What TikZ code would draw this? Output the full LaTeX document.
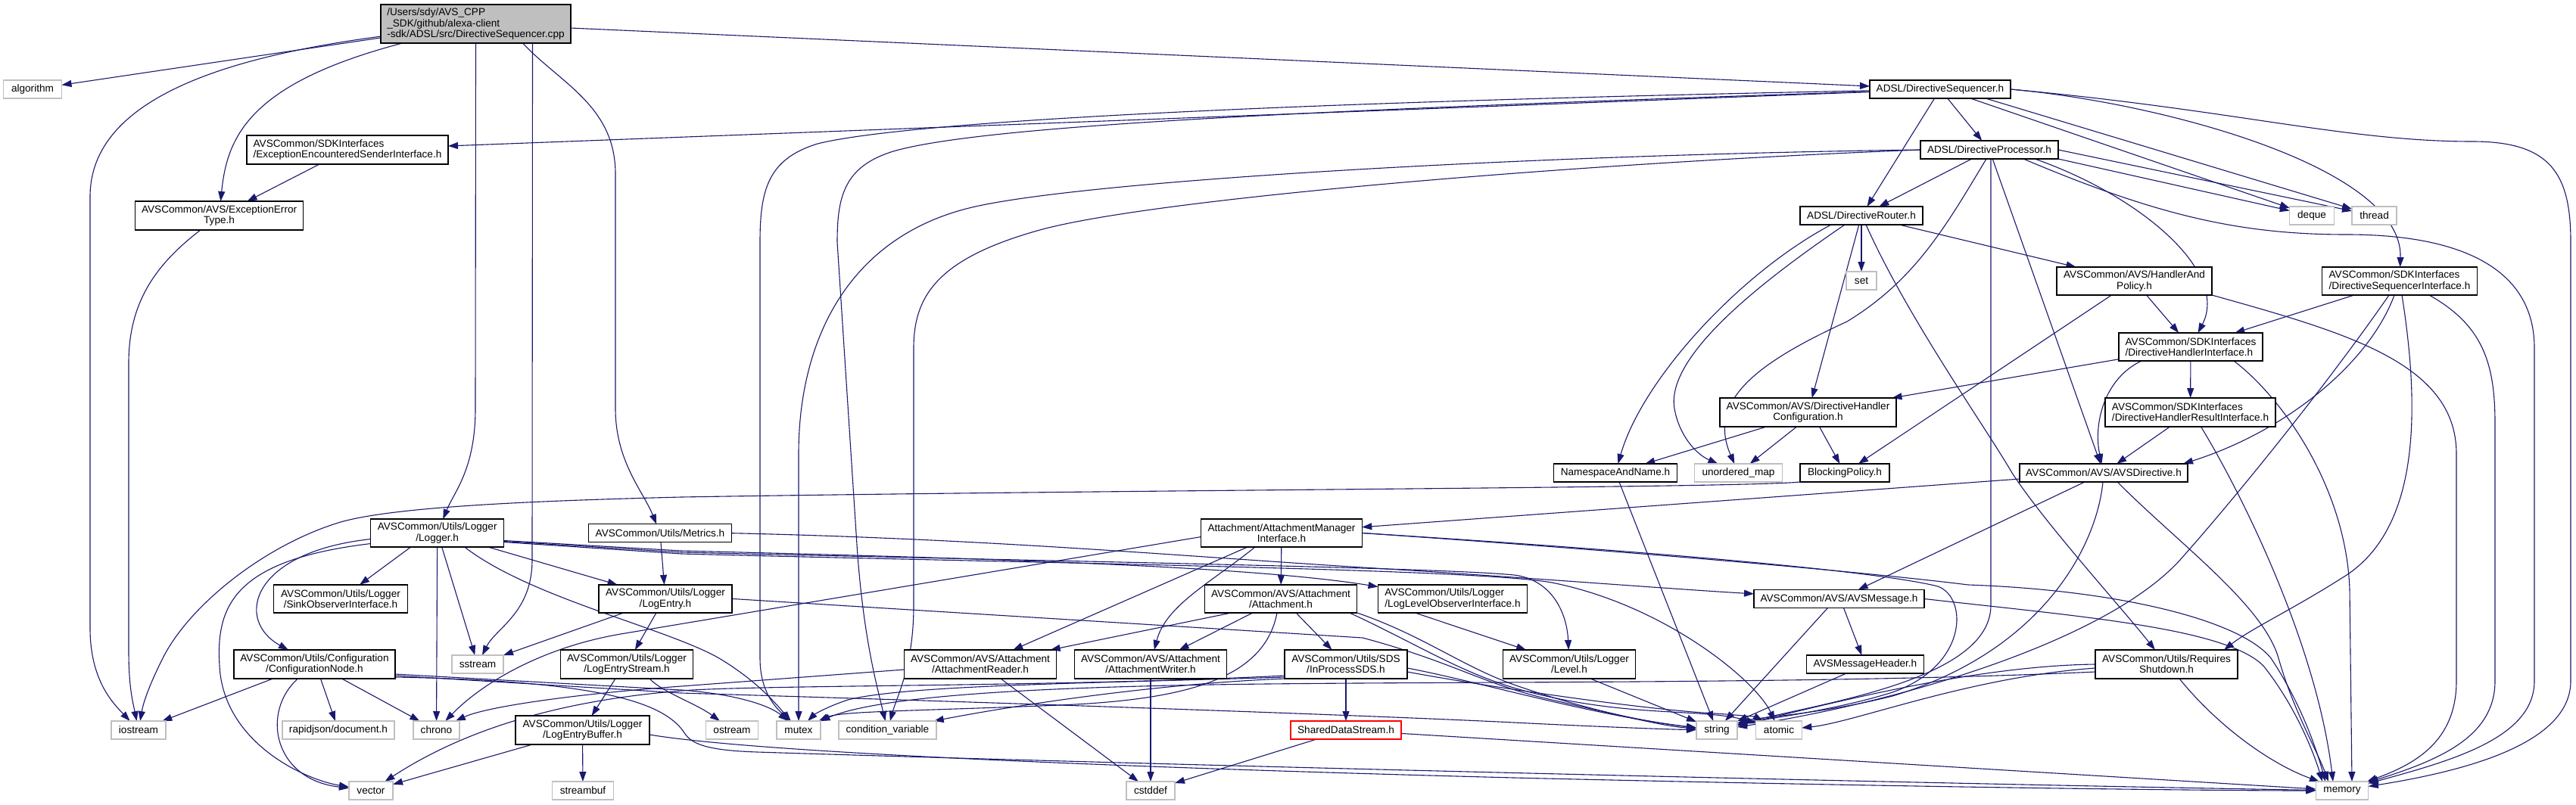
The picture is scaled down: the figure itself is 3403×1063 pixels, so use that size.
\documentclass[tikz,border=0pt]{standalone}
\usepackage{fontspec}
\setmainfont{Liberation Sans}
\usetikzlibrary{arrows.meta}
\definecolor{edgeblue}{HTML}{191970}
\definecolor{greyb}{HTML}{BFBFBF}
\pgfdeclarelayer{bgfill}
\pgfdeclarelayer{edges}
\pgfsetlayers{bgfill,edges,main}
\newcommand\mknode[6]{\node[#1, minimum width=#4pt, minimum height=#5pt] (#2) at (#3) {#6};}
\begin{document}
\begin{tikzpicture}[x=1pt,y=-1pt,
  every node/.style={font=\fontsize{13.6}{14.2}\selectfont, inner sep=0pt, outer sep=0pt},
  box/.style={draw=black, line width=1.3pt, fill=white},
  sys/.style={draw=greyb, line width=1.3pt, fill=white},
  trunc/.style={draw=red, line width=1.3pt, fill=white},
  edg/.style={draw=edgeblue, line width=1.1pt, -{Triangle[length=13pt,width=9pt]}},
]
\useasboundingbox (0,0) rectangle (3403,1063);
\begin{pgfonlayer}{bgfill}
\fill[white] (0,0) rectangle (3403,1063);
\end{pgfonlayer}

% ---------- nodes ----------
\mknode{box,fill=greyb,align=left}{main}{628.5,31.5}{251}{51}{/Users/sdy/AVS\_CPP\\\_SDK/github/alexa-client\\-sdk/ADSL/src/DirectiveSequencer.cpp}
\mknode{sys}{algo}{43,118}{77}{24}{algorithm}
\mknode{box,align=left}{EESI}{459,198}{266}{38}{AVSCommon/SDKInterfaces\\/ExceptionEncounteredSenderInterface.h}
\mknode{box,align=center}{EET}{289.6,285}{222}{38}{AVSCommon/AVS/ExceptionError\\Type.h}
\mknode{box}{DS}{2563,118}{186}{24}{ADSL/DirectiveSequencer.h}
\mknode{box}{DP}{2628,198}{182}{24}{ADSL/DirectiveProcessor.h}
\mknode{box}{DR}{2459,285}{162}{24}{ADSL/DirectiveRouter.h}
\mknode{sys}{set}{2459,371}{40}{24}{set}
\mknode{sys}{deque}{3054,285}{58.5}{24}{deque}
\mknode{sys}{thread}{3136.5,285}{59}{24}{thread}
\mknode{box,align=center}{HAP}{2819.5,371.5}{205}{37}{AVSCommon/AVS/HandlerAnd\\Policy.h}
\mknode{box,align=left}{DSI}{3170,371.5}{204.5}{37}{AVSCommon/SDKInterfaces\\/DirectiveSequencerInterface.h}
\mknode{box,align=left}{DHI}{2894,458.5}{190}{37}{AVSCommon/SDKInterfaces\\/DirectiveHandlerInterface.h}
\mknode{box,align=left}{DHRI}{2893.5,545}{225}{38}{AVSCommon/SDKInterfaces\\/DirectiveHandlerResultInterface.h}
\mknode{box}{AVSD}{2779,625}{222}{24}{AVSCommon/AVS/AVSDirective.h}
\mknode{box,align=center}{DHC}{2388.5,545}{233}{38}{AVSCommon/AVS/DirectiveHandler\\Configuration.h}
\mknode{box}{NAN}{2134,625}{163}{24}{NamespaceAndName.h}
\mknode{sys}{umap}{2296.5,625}{116}{24}{unordered\_map}
\mknode{box}{BP}{2437,625}{118}{24}{BlockingPolicy.h}
\mknode{box,align=center}{Logger}{577.7,704.5}{176}{37}{AVSCommon/Utils/Logger\\/Logger.h}
\mknode{box}{Metrics}{872,704.7}{189}{24}{AVSCommon/Utils/Metrics.h}
\mknode{box,align=center}{AMI}{1693,704.5}{212.5}{37}{Attachment/AttachmentManager\\Interface.h}
\mknode{box,align=center}{SOI}{450,791.4}{176.4}{37}{AVSCommon/Utils/Logger\\/SinkObserverInterface.h}
\mknode{box,align=center}{CN}{415.5,878}{213}{38}{AVSCommon/Utils/Configuration\\/ConfigurationNode.h}
\mknode{sys}{sstream}{631,878}{68}{24}{sstream}
\mknode{box,align=center}{LogEntry}{879,791.4}{176}{37}{AVSCommon/Utils/Logger\\/LogEntry.h}
\mknode{box,align=center}{LES}{828,878}{175.5}{38}{AVSCommon/Utils/Logger\\/LogEntryStream.h}
\mknode{sys}{iostream}{183,965}{72}{24}{iostream}
\mknode{sys}{rapidjson}{447,965}{148}{24}{rapidjson/document.h}
\mknode{sys}{chrono}{576.5,965}{61}{24}{chrono}
\mknode{box,align=center}{LEB}{769.5,965}{177}{38}{AVSCommon/Utils/Logger\\/LogEntryBuffer.h}
\mknode{sys}{vector}{490,1045}{58}{24}{vector}
\mknode{sys}{streambuf}{770,1045}{80.5}{24}{streambuf}
\mknode{box,align=center}{Attachment}{1692,791.4}{201}{37}{AVSCommon/AVS/Attachment\\/Attachment.h}
\mknode{box,align=center}{AR}{1295,878}{200.5}{38}{AVSCommon/AVS/Attachment\\/AttachmentReader.h}
\mknode{box,align=center}{AW}{1520,878}{201.5}{38}{AVSCommon/AVS/Attachment\\/AttachmentWriter.h}
\mknode{box,align=center}{IPSDS}{1778,878}{162}{38}{AVSCommon/Utils/SDS\\/InProcessSDS.h}
\mknode{sys}{ostream}{967,965}{69}{24}{ostream}
\mknode{sys}{mutex}{1055,965}{58}{24}{mutex}
\mknode{sys}{condvar}{1172.5,965}{129}{24}{condition\_variable}
\mknode{trunc}{SDS}{1778,965}{146}{24}{SharedDataStream.h}
\mknode{sys}{cstddef}{1520,1045}{64}{24}{cstddef}
\mknode{box,align=left}{LLOI}{1919,791.4}{197}{37}{AVSCommon/Utils/Logger\\/LogLevelObserverInterface.h}
\mknode{box,align=center}{Level}{2073,878}{175.5}{38}{AVSCommon/Utils/Logger\\/Level.h}
\mknode{box}{AVSM}{2429.5,791.5}{225}{24}{AVSCommon/AVS/AVSMessage.h}
\mknode{box}{AVSMH}{2464,878}{155}{24}{AVSMessageHeader.h}
\mknode{sys}{string}{2268,965}{54}{24}{string}
\mknode{sys}{atomic}{2350,965}{60.5}{24}{atomic}
\mknode{box,align=center}{RS}{2862,878}{188}{38}{AVSCommon/Utils/Requires\\Shutdown.h}
\mknode{sys}{memory}{3094,1045}{69.5}{24}{memory}

% ---------- edges ----------
\begin{pgfonlayer}{edges}
% main
\draw[edg] (main) -- (algo);
\draw[edg] (main) .. controls (300,75) and (119,130) .. (119,260) -- (119,830) .. controls (119,900) and (150,930) .. (iostream);
\draw[edg] (main) .. controls (330,110) and (300,180) .. (EET);
\draw[edg] (main.south) -- (628,540) .. controls (628,620) and (600,650) .. (Logger);
\draw[edg] ([xshift=75pt]main.south) -- (703,740) .. controls (703,810) and (655,830) .. (sstream);
\draw[edg] ([xshift=62pt]main.south) .. controls (740,110) and (813,140) .. (813,230) -- (813,540) .. controls (813,610) and (850,650) .. (Metrics);
\draw[edg] (main) -- (DS);
\draw[edg] (EESI) -- (EET);
\draw[edg] (EET) .. controls (205,350) and (170,400) .. (170,480) -- (170,860) .. controls (170,910) and (176,930) .. (iostream);
% DirectiveSequencer.h
\draw[edg] (DS) -- (EESI);
\draw[edg] (DS) .. controls (1700,135) and (1200,160) .. (1080,190) .. controls (1015,210) and (1004,250) .. (1004,320) -- (1004,870) .. controls (1004,915) and (1025,935) .. (mutex);
\draw[edg] (DS) .. controls (1750,145) and (1300,165) .. (1180,200) .. controls (1115,220) and (1106,260) .. (1106,320) -- (1132,720) .. controls (1140,840) and (1158,905) .. (condvar);
\draw[edg] (DS) -- (DR);
\draw[edg] (DS) -- (DP);
\draw[edg] ([xshift=40pt]DS.south) -- (deque);
\draw[edg] ([xshift=60pt]DS.south) -- (thread);
\draw[edg] (DS.east) .. controls (2850,135) and (3175,220) .. (DSI);
\draw[edg] (DS.east) .. controls (2950,145) and (3100,187) .. (3266,187) .. controls (3370,187) and (3396,230) .. (3396,320) -- (3396,900) .. controls (3396,985) and (3250,1020) .. (memory);
% DirectiveProcessor.h
\draw[edg] (DP) -- (DR);
\draw[edg] (DP.south east) -- (deque);
\draw[edg] (DP.east) -- (thread);
\draw[edg] (DP.west) .. controls (2000,205) and (1420,240) .. (1280,275) .. controls (1120,315) and (1055,450) .. (1055,600) -- (mutex);
\draw[edg] (DP.west) .. controls (2100,215) and (1520,262) .. (1370,305) .. controls (1240,342) and (1207,390) .. (1207,460) -- (1207,800) .. controls (1207,880) and (1185,920) .. (condvar);
\draw[edg] ([xshift=-4pt]DP.south) .. controls (2570,300) and (2530,370) .. (2440,425) .. controls (2320,480) and (2255,530) .. (umap);
\draw[edg] ([xshift=2pt]DP.south) -- (2630,800) .. controls (2630,900) and (2400,930) .. (string);
\draw[edg] (DP) -- (AVSD);
\draw[edg] ([xshift=60pt]DP.south) .. controls (2830,260) and (2945,360) .. (DHI);
\draw[edg] ([xshift=45pt]DP.south) .. controls (2850,285) and (2960,310) .. (3100,310) .. controls (3260,310) and (3348,360) .. (3348,460) -- (3348,900) .. controls (3348,975) and (3240,1005) .. (memory);
% DirectiveRouter.h
\draw[edg] ([xshift=-40pt]DR.south) .. controls (2300,360) and (2170,500) .. (NAN);
\draw[edg] ([xshift=-22pt]DR.south) .. controls (2330,370) and (2200,470) .. (2212,540) .. controls (2218,575) and (2240,600) .. (umap);
\draw[edg] (DR) -- (DHC);
\draw[edg] (DR) -- (set);
\draw[edg] ([xshift=6pt]DR.south) .. controls (2520,420) and (2620,560) .. (2658,625) .. controls (2700,690) and (2800,800) .. (RS);
\draw[edg] (DR) -- (HAP);
% HandlerAndPolicy.h
\draw[edg] ([xshift=16pt]HAP.south) -- (DHI);
\draw[edg] ([xshift=-30pt]HAP.south) -- (BP);
\draw[edg] (HAP.south east) .. controls (3100,440) and (3245,480) .. (3245,600) -- (3245,900) .. controls (3245,980) and (3190,1010) .. (memory);
% DirectiveSequencerInterface.h
\draw[edg] ([xshift=-60pt]DSI.south) -- (DHI);
\draw[edg] ([xshift=-7pt]DSI.south) .. controls (3130,480) and (3020,570) .. ([xshift=-6pt]AVSD.north east);
\draw[edg] ([xshift=3pt]DSI.south) .. controls (3200,560) and (3190,700) .. (3100,760) .. controls (3030,805) and (2975,830) .. ([xshift=-18pt]RS.north east);
\draw[edg] ([xshift=-14pt]DSI.south) .. controls (3080,500) and (2960,650) .. (2880,740) .. controls (2780,850) and (2500,930) .. (string);
\draw[edg] ([xshift=39pt]DSI.south) .. controls (3280,430) and (3296,480) .. (3296,560) -- (3296,900) .. controls (3296,975) and (3220,1005) .. (memory);
% DirectiveHandlerInterface.h
\draw[edg] (DHI) -- (DHC);
\draw[edg] (DHI) -- (DHRI);
\draw[edg] ([xshift=-65pt]DHI.south) .. controls (2780,500) and (2765,560) .. (AVSD);
\draw[edg] ([xshift=57pt]DHI.south) .. controls (3020,530) and (3100,650) .. (3104,780) -- ([xshift=13pt]memory.north);
% DirectiveHandlerResultInterface.h
\draw[edg] ([xshift=-27pt]DHRI.south) -- (AVSD);
\draw[edg] ([xshift=14pt]DHRI.south) .. controls (2960,650) and (3060,850) .. ([xshift=-12pt]memory.north);
% AVSDirective.h
\draw[edg] (AVSD) -- (AMI);
\draw[edg] ([xshift=-25pt]AVSD.south) -- (AVSM);
\draw[edg] ([xshift=-1pt]AVSD.south) .. controls (2770,720) and (2700,860) .. (2500,920) .. controls (2400,945) and (2320,948) .. (string);
\draw[edg] ([xshift=18pt]AVSD.south) .. controls (2880,720) and (2990,800) .. (3010,870) .. controls (3030,940) and (3060,990) .. ([xshift=-18pt]memory.north);
% RequiresShutdown.h
\draw[edg] ([xshift=17pt]RS.south) .. controls (2930,960) and (3000,1010) .. ([xshift=-30pt]memory.north);
\draw[edg] (RS.west) .. controls (2600,880) and (2400,935) .. (string);
\draw[edg] ([yshift=-5pt]RS.west) .. controls (2600,895) and (2450,955) .. (atomic);
\draw[edg] ([yshift=-10pt]RS.west) .. controls (2400,905) and (1900,900) .. (1600,905) .. controls (1300,910) and (1150,925) .. (mutex);
% AttachmentManagerInterface.h
\draw[edg] (AMI) -- (Attachment);
\draw[edg] ([xshift=-45pt]AMI.south) -- (AR);
\draw[edg] ([xshift=-35pt]AMI.south) .. controls (1600,770) and (1540,800) .. (AW);
\draw[edg] ([yshift=-5pt]AMI.west) -- (820,838) .. controls (720,855) and (640,900) .. (chrono);
\draw[edg] (AMI.east) .. controls (2200,730) and (2480,755) .. (2560,775) .. controls (2600,790) and (2600,880) .. (2500,915) .. controls (2420,940) and (2330,950) .. (string);
\draw[edg] (AMI.east) .. controls (2200,732) and (2480,758) .. (2600,773) .. controls (2800,780) and (2960,820) .. (3000,870) .. controls (3040,930) and (3060,990) .. ([xshift=-22pt]memory.north);
% Attachment.h
\draw[edg] ([xshift=-65pt]Attachment.south) -- (AR);
\draw[edg] ([xshift=-37pt]Attachment.south) -- (AW);
\draw[edg] ([xshift=20pt]Attachment.south) -- (IPSDS);
\draw[edg] ([xshift=-5pt]Attachment.south) .. controls (1670,900) and (1560,925) .. (1400,932) .. controls (1200,940) and (1110,940) .. (mutex);
\draw[edg] (Attachment.south east) .. controls (1880,840) and (1930,880) .. (2000,905) .. controls (2100,940) and (2180,955) .. (string);
\draw[edg] ([xshift=-10pt]Attachment.south east) .. controls (1870,850) and (1930,890) .. (2010,912) .. controls (2150,950) and (2250,935) .. (atomic);
% InProcessSDS.h
\draw[edg] (IPSDS) -- (SDS);
\draw[edg] (IPSDS.south west) .. controls (1500,905) and (1300,940) .. (condvar);
\draw[edg] ([yshift=2pt]IPSDS.south west) .. controls (1450,903) and (1200,905) .. (1120,925) .. controls (1090,935) and (1075,945) .. (mutex);
\draw[edg] ([yshift=4pt]IPSDS.south west) .. controls (1400,908) and (1000,905) .. (900,913) .. controls (750,925) and (620,960) .. (vector);
\draw[edg] ([yshift=-5pt]IPSDS.east) .. controls (1950,900) and (2100,945) .. (string);
\draw[edg] ([yshift=-10pt]IPSDS.east) .. controls (1950,905) and (2150,935) .. (2250,942) .. controls (2300,945) and (2320,948) .. (atomic);
% SharedDataStream.h
\draw[edg] (SDS) -- (cstddef);
\draw[edg] (SDS) -- (memory);
% ConfigurationNode.h
\draw[edg] ([xshift=-55pt]CN.south) -- (iostream);
\draw[edg] ([xshift=-22pt]CN.south) .. controls (345,940) and (360,1030) .. (vector);
\draw[edg] ([xshift=8pt]CN.south) -- (rapidjson);
\draw[edg] ([xshift=36pt]CN.south) -- (chrono);
\draw[edg] ([yshift=6pt]CN.south east) -- (900,912) .. controls (980,918) and (1020,935) .. (mutex);
\draw[edg] ([yshift=4pt]CN.south east) -- (900,916) .. controls (1300,928) and (1800,945) .. (2000,955) .. controls (2100,960) and (2200,964) .. (string);
\draw[edg] ([yshift=2pt]CN.south east) .. controls (800,900) and (880,930) .. (905,970) .. controls (915,985) and (940,992) .. (1000,994) .. controls (1500,1010) and (2500,1035) .. (memory);
% LogEntryBuffer.h
\draw[edg] (LEB) -- (vector);
\draw[edg] (LEB) -- (streambuf);
\draw[edg] ([yshift=-6pt]LEB.east) .. controls (1000,995) and (1500,1015) .. (2000,1028) .. controls (2500,1040) and (2900,1045) .. (memory);
% LogEntryStream.h
\draw[edg] ([xshift=-15pt]LES.south) -- (LEB);
\draw[edg] ([xshift=30pt]LES.south) .. controls (875,915) and (920,930) .. (ostream);
% LogEntry.h
\draw[edg] ([xshift=-55pt]LogEntry.south) -- (sstream);
\draw[edg] ([xshift=-12pt]LogEntry.south) -- (LES);
\draw[edg] (LogEntry.east) -- (1800,843) .. controls (1920,875) and (1960,905) .. (2050,925) .. controls (2150,948) and (2200,960) .. (string);
% Metrics.h
\draw[edg] (Metrics) -- (LogEntry);
\draw[edg] (Metrics.east) .. controls (1300,712) and (1560,735) .. (1800,750) .. controls (2000,762) and (2200,778) .. (AVSM);
% Logger.h
\draw[edg] ([xshift=-35pt]Logger.south) -- (SOI);
\draw[edg] ([yshift=-8pt]Logger.west) .. controls (330,730) and (310,820) .. (CN);
\draw[edg] ([yshift=-14pt]Logger.west) .. controls (310,740) and (285,800) .. (290,880) .. controls (295,980) and (400,1030) .. (vector);
\draw[edg] (Logger) -- (chrono);
\draw[edg] ([xshift=6pt]Logger.south) -- (sstream);
\draw[edg] ([xshift=36pt]Logger.south) .. controls (700,790) and (880,830) .. (950,870) .. controls (1000,900) and (1025,930) .. (mutex);
\draw[edg] ([xshift=67pt]Logger.south) -- (LogEntry);
\draw[edg] ([yshift=-10pt]Logger.east) -- (900,728) .. controls (1300,738) and (1650,748) .. (LLOI);
\draw[edg] ([yshift=-11pt]Logger.east) -- (900,730) .. controls (1400,742) and (1900,750) .. (2000,760) .. controls (2050,766) and (2070,810) .. (Level);
\draw[edg] ([yshift=-12pt]Logger.east) -- (900,732) .. controls (1400,745) and (1950,752) .. (2050,770) .. controls (2200,800) and (2320,900) .. (atomic);
% other small headers
\draw[edg] ([xshift=-50pt]LLOI.south) -- (Level);
\draw[edg] ([xshift=28pt]Level.south) -- (string);
\draw[edg] ([xshift=-15pt]AVSM.south) -- (string);
\draw[edg] ([xshift=6pt]AVSM.south) -- (AVSMH);
\draw[edg] (AVSM.east) .. controls (2750,815) and (2940,830) .. (2990,880) .. controls (3030,930) and (3055,990) .. ([xshift=-26pt]memory.north);
\draw[edg] ([xshift=-25pt]AVSMH.south) -- (string);
\draw[edg] ([xshift=5pt]NAN.south) -- (string);
\draw[edg] (BP.south west) .. controls (2300,645) and (1500,647) .. (900,657) .. controls (700,662) and (520,670) .. (450,690) .. controls (350,720) and (250,800) .. (215,870) .. controls (200,900) and (190,925) .. (iostream);
\draw[edg] ([xshift=-55pt]DHC.south) -- (NAN);
\draw[edg] ([xshift=-15pt]DHC.south) -- (umap);
\draw[edg] ([xshift=15pt]DHC.south) -- (BP);
\draw[edg] ([yshift=-7pt]AR.west) -- (900,907) .. controls (750,918) and (640,935) .. (chrono);
\draw[edg] ([xshift=27pt]AR.south) -- (cstddef);
\draw[edg] (AW) -- (cstddef);
\end{pgfonlayer}
\end{tikzpicture}
\end{document}
